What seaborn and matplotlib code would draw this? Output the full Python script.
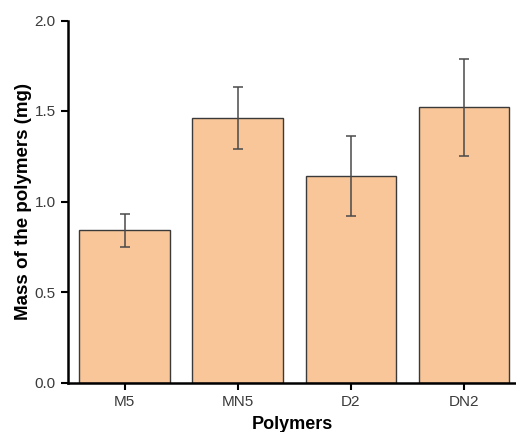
import matplotlib
matplotlib.use("Agg")
import matplotlib.pyplot as plt
import seaborn as sns
import pandas as pd

# Mass of each polymer sample with its standard deviation
polymers = ["M5", "MN5", "D2", "DN2"]
mass_mg = [0.84, 1.46, 1.14, 1.52]
mass_sd = [0.09, 0.17, 0.22, 0.27]
y_ticks = [0.0, 0.5, 1.0, 1.5, 2.0]

df = pd.DataFrame({"Polymers": polymers, "Mass": mass_mg, "SD": mass_sd})

sns.set_theme(style="ticks")
plt.rcParams["font.family"] = ["Liberation Sans", "DejaVu Sans"]

fig = plt.figure(figsize=(5.16, 4.32), dpi=100)
ax = fig.add_axes([68 / 516, 49.5 / 432, (516 - 68) / 516, (411.5 - 49.5) / 432])

sns.barplot(data=df, x="Polymers", y="Mass", order=polymers, color="#F9C699",
            saturation=1, width=0.8, edgecolor="#3a3a3a", linewidth=1.0,
            errorbar=None, ax=ax)

ax.errorbar(x=range(len(polymers)), y=df["Mass"], yerr=df["SD"], fmt="none",
            ecolor="#4a4a4a", elinewidth=1.1, capsize=3.5, capthick=1.1, zorder=5)

ax.set_xlim(-0.5, 3.46)
ax.set_ylim(0, 2.0)
ax.set_yticks(y_ticks)
ax.set_yticklabels([f"{v:.1f}" for v in y_ticks])

ax.set_xlabel("Polymers", fontsize=13, fontweight="bold", color="black", labelpad=5)
ax.set_ylabel("Mass of the polymers (mg)", fontsize=13.5, fontweight="bold",
              color="black", labelpad=2)

for side in ["top", "right"]:
    ax.spines[side].set_visible(False)
for side in ["left", "bottom"]:
    ax.spines[side].set_linewidth(1.8)
    ax.spines[side].set_color("black")

ax.tick_params(axis="both", direction="out", length=5, width=1.5, color="black",
               labelsize=11, labelcolor="#3a3a3a", pad=4)

fig.savefig("out.png", dpi=100)
